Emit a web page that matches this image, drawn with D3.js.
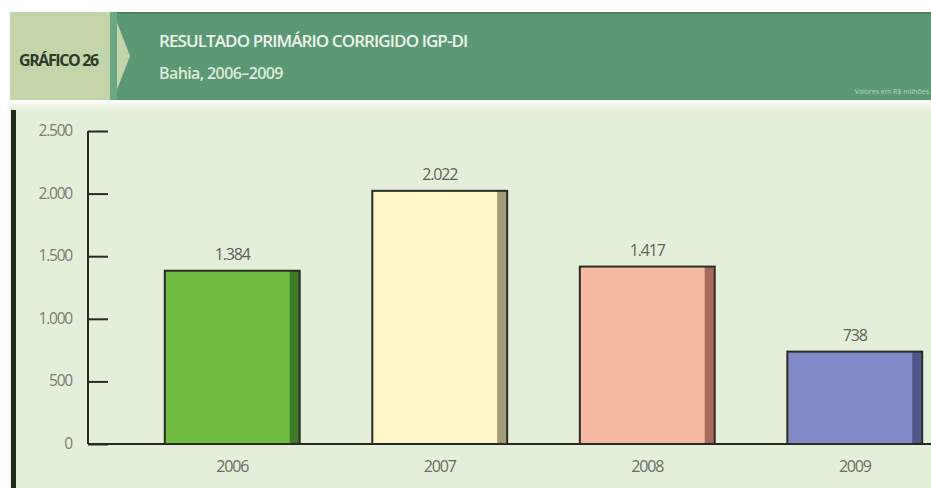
<!DOCTYPE html>
<html>
<head>
<meta charset="utf-8">
<script src="https://cdn.jsdelivr.net/npm/d3@7"></script>
<style>
  html, body { margin: 0; padding: 0; background: #ffffff; }
  svg { display: block; }
</style>
</head>
<body>
<svg id="chart" width="931" height="488"></svg>
<script>
// ---- data ----
const categories = ["2006", "2007", "2008", "2009"];
const values = [1384, 2022, 1417, 738];
const valueLabels = ["1.384", "2.022", "1.417", "738"];
const yTicks = [0, 500, 1000, 1500, 2000, 2500];
const yTickLabels = ["0", "500", "1.000", "1.500", "2.000", "2.500"];
const barColors = ["#6fbd40", "#fff6c6", "#f6b9a2", "#8189c6"];
const shadeColors = ["#3d7a26", "#a39c78", "#a46a5a", "#4f578c"];
const chartLabel = "GRÁFICO 26";
const title = "RESULTADO PRIMÁRIO CORRIGIDO IGP-DI";
const subtitle = "Bahia, 2006–2009";
const unitNote = "Valores em R$ milhões";

const svg = d3.select("#chart");
const font = "'Open Sans', 'DejaVu Sans', sans-serif";

// ---- header ----
const defs = svg.append("defs");
const g1 = defs.append("linearGradient").attr("id", "strip").attr("x1", 0).attr("y1", 0).attr("x2", 0).attr("y2", 1);
g1.append("stop").attr("offset", "0%").attr("stop-color", "#ffffff");
g1.append("stop").attr("offset", "100%").attr("stop-color", "#e6eed8");

svg.append("rect").attr("x", 10).attr("y", 12).attr("width", 921).attr("height", 88).attr("fill", "#5b9874");
svg.append("rect").attr("x", 10).attr("y", 12).attr("width", 921).attr("height", 2).attr("fill", "#4d7f60");
svg.append("rect").attr("x", 10).attr("y", 12).attr("width", 100).attr("height", 88).attr("fill", "#c3d5a9");
svg.append("path").attr("d", "M110,12 L113,12 L130,56 L113,100 L110,100 Z").attr("fill", "#c3d5a9");
svg.append("path").attr("d", "M110,12 L117,12 L117,100 L110,100 Z").attr("fill", "#6aa883");

svg.append("text").attr("x", 19).attr("y", 66).text(chartLabel)
  .attr("font-family", font).attr("font-weight", 700).attr("font-size", 16)
  .attr("letter-spacing", -1.4).attr("fill", "#2f3a2a");
svg.append("text").attr("x", 159).attr("y", 47).text(title)
  .attr("font-family", font).attr("font-weight", 600).attr("font-size", 17)
  .attr("letter-spacing", -0.9).attr("fill", "#eef3ea");
svg.append("text").attr("x", 159).attr("y", 79).text(subtitle)
  .attr("font-family", font).attr("font-weight", 600).attr("font-size", 16)
  .attr("letter-spacing", -0.6).attr("fill", "#dfe9d9");
svg.append("text").attr("x", 929).attr("y", 94).attr("text-anchor", "end").text(unitNote)
  .attr("font-family", font).attr("font-size", 7).attr("fill", "#b9d3bf");

// ---- chart area ----
svg.append("rect").attr("x", 10).attr("y", 100).attr("width", 921).attr("height", 10).attr("fill", "url(#strip)");
svg.append("rect").attr("x", 10).attr("y", 110).attr("width", 921).attr("height", 378).attr("fill", "#e4efd9");
svg.append("rect").attr("x", 11).attr("y", 110).attr("width", 5).attr("height", 378).attr("fill", "#1f2a1c");

const x = d3.scaleBand().domain(categories).range([88, 999]).paddingInner(0.35).paddingOuter(0.37);
const y = d3.scaleLinear().domain([0, 2500]).range([444, 131]);

// y axis
const yAxis = d3.axisRight(y).tickValues(yTicks).tickSize(20).tickFormat("");
const ya = svg.append("g").attr("transform", "translate(88,0)").call(yAxis);
ya.select(".domain").remove();
ya.selectAll(".tick line").attr("stroke", "#2a2a22").attr("stroke-width", 2);
svg.append("line").attr("x1", 88).attr("x2", 88).attr("y1", y(2500)).attr("y2", y(0))
  .attr("stroke", "#2a2a22").attr("stroke-width", 2);
svg.append("g").selectAll("text").data(yTicks).join("text")
  .attr("x", 72).attr("y", d => y(d) + 5).attr("text-anchor", "end")
  .text((d, i) => yTickLabels[i])
  .attr("font-family", font).attr("font-size", 15.5).attr("letter-spacing", -1.2).attr("fill", "#7a7d72");

// bars
const bars = svg.append("g");
bars.selectAll("rect.bar").data(values).join("rect").attr("class", "bar")
  .attr("x", (d, i) => x(categories[i])).attr("y", d => y(d))
  .attr("width", x.bandwidth()).attr("height", d => y(0) - y(d))
  .attr("fill", (d, i) => barColors[i]);
bars.selectAll("rect.shade").data(values).join("rect").attr("class", "shade")
  .attr("x", (d, i) => x(categories[i]) + x.bandwidth() - 10).attr("y", d => y(d))
  .attr("width", 10).attr("height", d => y(0) - y(d))
  .attr("fill", (d, i) => shadeColors[i]);
bars.selectAll("rect.outline").data(values).join("rect").attr("class", "outline")
  .attr("x", (d, i) => x(categories[i])).attr("y", d => y(d))
  .attr("width", x.bandwidth()).attr("height", d => y(0) - y(d))
  .attr("fill", "none").attr("stroke", "#2c2c26").attr("stroke-width", 2);

// x axis line
svg.append("line").attr("x1", 88).attr("x2", 931).attr("y1", y(0)).attr("y2", y(0))
  .attr("stroke", "#2a2a22").attr("stroke-width", 2);

// value labels
svg.append("g").selectAll("text").data(values).join("text")
  .attr("x", (d, i) => x(categories[i]) + x.bandwidth() / 2).attr("y", d => y(d) - 11)
  .attr("text-anchor", "middle").text((d, i) => valueLabels[i])
  .attr("font-family", font).attr("font-size", 16).attr("letter-spacing", -1.2).attr("fill", "#5f625a");

// category labels
svg.append("g").selectAll("text").data(categories).join("text")
  .attr("x", d => x(d) + x.bandwidth() / 2).attr("y", 472)
  .attr("text-anchor", "middle").text(d => d)
  .attr("font-family", font).attr("font-size", 16).attr("letter-spacing", -1.2).attr("fill", "#6a6d64");
</script>
</body>
</html>
